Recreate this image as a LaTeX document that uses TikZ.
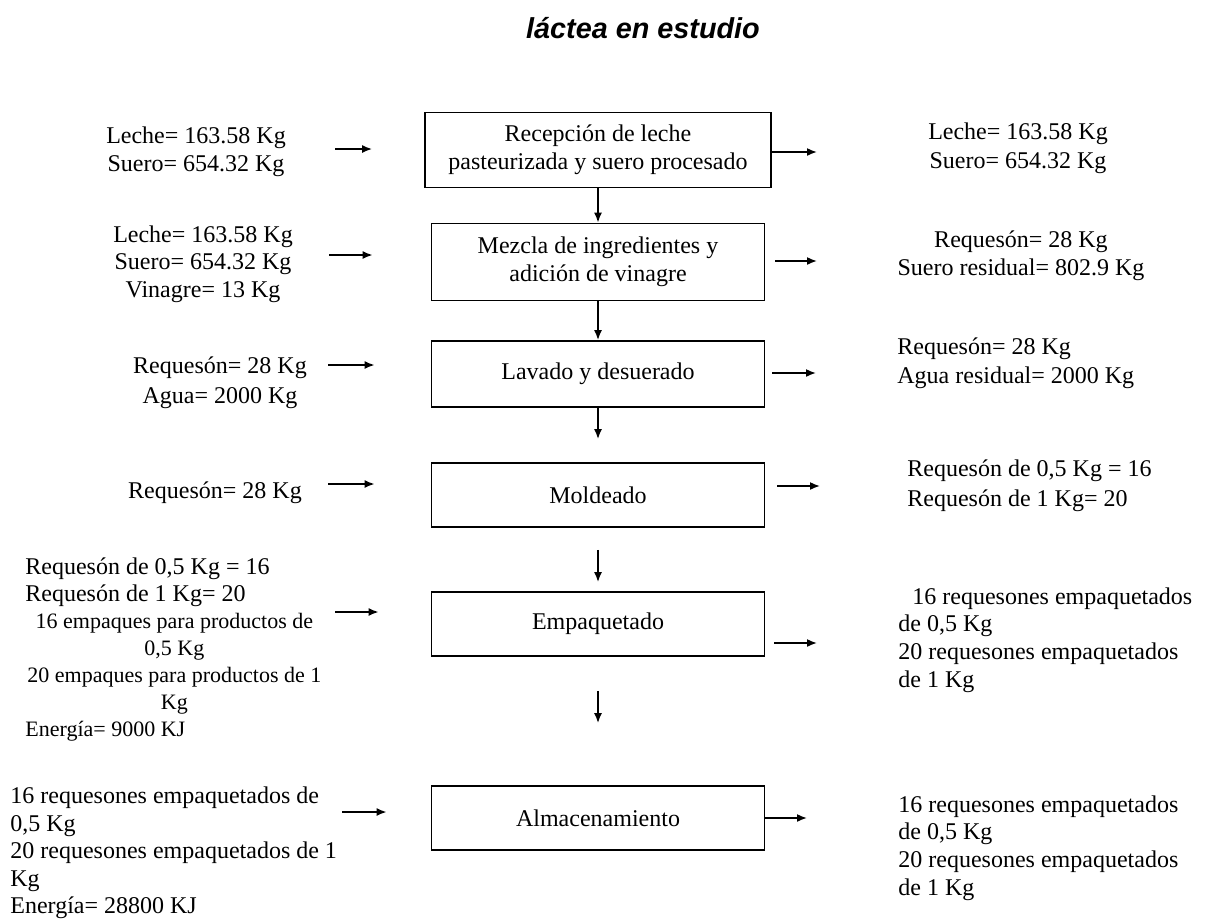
\documentclass[tikz,border=0pt]{standalone}
\usepackage{fontspec}
\setmainfont{Liberation Serif}
\newfontfamily\titlefont{Liberation Sans}
\usetikzlibrary{arrows.meta}

\begin{document}
\begin{tikzpicture}[x=0.5pt,y=-0.5pt,>={Latex[length=5pt,width=4pt]},
  proc/.style={draw,line width=0.9pt,minimum width=166.5pt,align=center,font=\fontsize{12}{14.2}\selectfont},
  txt/.style={align=center,inner sep=0pt,font=\fontsize{12}{13.8}\selectfont},
  txtl/.style={txt,align=left,anchor=west},
  flow/.style={->,line width=0.8pt}]
  \useasboundingbox (0,0) rectangle (1206,922);
  \node[font=\titlefont\bfseries\itshape\fontsize{14.4}{16}\selectfont] (titulo) at (643,28) {láctea en estudio};

  % etapas del proceso
  \node[proc,minimum width=173pt,minimum height=37.5pt] (recep) at (598,150) {Recepción de leche\\pasteurizada y suero procesado};
  \node[proc,minimum height=38.5pt] (mezcla) at (598,262) {Mezcla de ingredientes y\\adición de vinagre};
  \node[proc,minimum height=33pt] (lavado) at (598,374) {Lavado y desuerado};
  \node[proc,minimum height=32pt] (moldeo) at (598,495) {Moldeado};
  \node[proc,minimum height=32pt] (empaque) at (598,624) {Empaquetado};
  \node[proc,minimum height=32pt] (almacen) at (598,818) {Almacenamiento};

  \draw[flow] (recep) -- (mezcla);
  \draw[flow] (mezcla) -- (lavado);
  \draw[flow,shorten >=11.5pt] (lavado) -- (moldeo);
  \draw[flow,shorten <=11pt,shorten >=4.5pt] (moldeo) -- (empaque);
  \draw[flow,shorten <=17pt,shorten >=31pt] (empaque) -- (almacen);

  % entradas
  \node[txt] (ent1) at (196,152) {Leche= 163.58 Kg\\Suero= 654.32 Kg};
  \node[txt] (ent2) at (203,264) {Leche= 163.58 Kg\\Suero= 654.32 Kg\\Vinagre= 13 Kg};
  \node[txt,font=\fontsize{12}{14.8}\selectfont] (ent3) at (220,383) {Requesón= 28 Kg\\Agua= 2000 Kg};
  \node[txt] (ent4) at (215,493) {Requesón= 28 Kg};
  \node[txtl,font=\fontsize{12}{13.5}\selectfont] (ent5) at (25,650) {Requesón de 0,5 Kg = 16\\Requesón de 1 Kg= 20\\
    \makebox[149pt]{\fontsize{11}{13.5}\selectfont 16 empaques para productos de}\\
    \makebox[149pt]{\fontsize{11}{13.5}\selectfont 0,5 Kg}\\
    \makebox[149pt]{\fontsize{11}{13.5}\selectfont 20 empaques para productos de 1}\\
    \makebox[149pt]{\fontsize{11}{13.5}\selectfont Kg}\\
    {\fontsize{11}{13.5}\selectfont Energía= 9000 KJ}};
  \node[txtl] (ent6) at (10,853) {16 requesones empaquetados de\\0,5 Kg\\20 requesones empaquetados de 1\\Kg\\Energía= 28800 KJ};

  \coordinate (i1) at (335,149);
  \coordinate (i2) at (329,255);
  \coordinate (i3) at (328,365);
  \coordinate (i4) at (328,484);
  \coordinate (i5) at (335,612);
  \coordinate (i6) at (342,812);
  \draw[flow,shorten >=26pt] (i1) -- (i1 -| recep.west);
  \draw[flow,shorten >=29pt] (i2) -- (i2 -| mezcla.west);
  \draw[flow,shorten >=28pt] (i3) -- (i3 -| lavado.west);
  \draw[flow,shorten >=28pt] (i4) -- (i4 -| moldeo.west);
  \draw[flow,shorten >=26pt] (i5) -- (i5 -| empaque.west);
  \draw[flow,shorten >=22pt] (i6) -- (i6 -| almacen.west);

  % salidas
  \node[txt,font=\fontsize{12}{14.5}\selectfont] (sal1) at (1018,148) {Leche= 163.58 Kg\\Suero= 654.32 Kg};
  \node[txt] (sal2) at (1021,256) {Requesón= 28 Kg\\Suero residual= 802.9 Kg};
  \node[txtl,font=\fontsize{12}{14.5}\selectfont] (sal3) at (897,363) {Requesón= 28 Kg\\Agua residual= 2000 Kg};
  \node[txtl,font=\fontsize{12}{14.8}\selectfont] (sal4) at (907,486) {Requesón de 0,5 Kg = 16\\Requesón de 1 Kg= 20};
  \node[txtl] (sal5) at (898,640) {\hspace*{7pt}16 requesones empaquetados\\de 0,5 Kg\\20 requesones empaquetados\\de 1 Kg};
  \node[txtl] (sal6) at (898,848) {16 requesones empaquetados\\de 0,5 Kg\\20 requesones empaquetados\\de 1 Kg};

  \coordinate (o1) at (817,152);
  \coordinate (o2) at (817,261);
  \coordinate (o3) at (816,373);
  \coordinate (o4) at (820,486);
  \coordinate (o5) at (817,643);
  \coordinate (o6) at (807,818);
  \draw[flow] (o1 -| recep.east) -- (o1);
  \draw[flow,shorten <=5pt] (o2 -| mezcla.east) -- (o2);
  \draw[flow,shorten <=3.5pt] (o3 -| lavado.east) -- (o3);
  \draw[flow,shorten <=6pt] (o4 -| moldeo.east) -- (o4);
  \draw[flow,shorten <=4.5pt] (o5 -| empaque.east) -- (o5);
  \draw[flow] (o6 -| almacen.east) -- (o6);
\end{tikzpicture}
\end{document}
